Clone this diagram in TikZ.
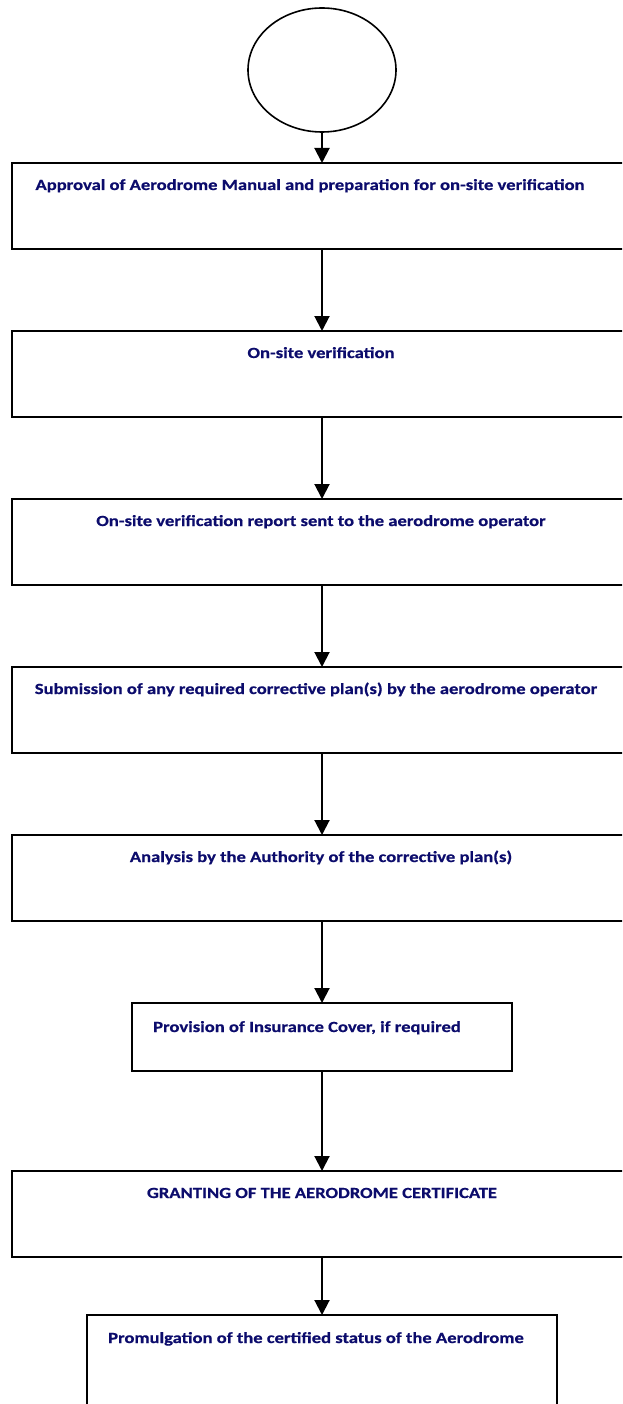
\documentclass[tikz,border=0pt]{standalone}
\usepackage{fontspec}
\setmainfont{Carlito}[FakeStretch=1.2,BoldFeatures={FakeBold=0.6}]
\usetikzlibrary{shapes.geometric,arrows.meta}
\definecolor{navytext}{RGB}{12,12,108}
\begin{document}
\begin{tikzpicture}[x=1pt,y=-1pt,
    stepbox/.style={draw,line width=2pt,minimum width=620pt,minimum height=86pt,inner sep=0pt,outer sep=0pt},
    steptext/.style={anchor=base,text=navytext,font=\fontsize{15.5}{18}\selectfont\bfseries,inner sep=0pt},
    flow/.style={line width=2pt,-{Triangle[length=15pt,width=15pt]}}]
    \useasboundingbox (0,0) rectangle (622,1404);
    \clip (0,0) rectangle (622,1404);

    \node[draw,ellipse,line width=1.6pt,minimum width=148pt,minimum height=124pt,outer sep=0pt] (start) at (322,70) {};

    \node[stepbox] (b1) at (322,206) {};
    \node[stepbox] (b2) at (322,374) {};
    \node[stepbox] (b3) at (322,542) {};
    \node[stepbox] (b4) at (322,710) {};
    \node[stepbox] (b5) at (322,878) {};
    \node[stepbox,minimum width=380pt,minimum height=68pt] (b6) at (322,1037) {};
    \node[stepbox] (b7) at (322,1214) {};
    \node[stepbox,minimum width=470pt,minimum height=100pt] (b8) at (322,1365) {};

    \node[steptext] (t1) at (310,190) {Approval of Aerodrome Manual and preparation for on-site verification};
    \node[steptext] (t2) at (321,358) {On-site verification};
    \node[steptext] (t3) at (321,526) {On-site verification report sent to the aerodrome operator};
    \node[steptext] (t4) at (316,694) {Submission of any required corrective plan(s) by the aerodrome operator};
    \node[steptext] (t5) at (321,862) {Analysis by the Authority of the corrective plan(s)};
    \node[steptext] (t6) at (307,1032) {Provision of Insurance Cover, if required};
    \node[steptext] (t7) at (322,1198) {GRANTING OF THE AERODROME CERTIFICATE};
    \node[steptext] (t8) at (316,1343) {Promulgation of the certified status of the Aerodrome};

    \draw[flow] (start.south) -- (b1.north);
    \draw[flow] (b1.south) -- (b2.north);
    \draw[flow] (b2.south) -- (b3.north);
    \draw[flow] (b3.south) -- (b4.north);
    \draw[flow] (b4.south) -- (b5.north);
    \draw[flow] (b5.south) -- (b6.north);
    \draw[flow] (b6.south) -- (b7.north);
    \draw[flow] (b7.south) -- (b8.north);
\end{tikzpicture}
\end{document}
